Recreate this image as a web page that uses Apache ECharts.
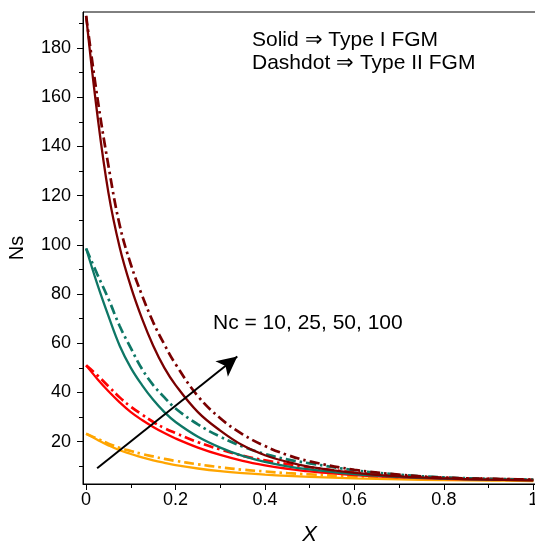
<!DOCTYPE html>
<html><head><meta charset="utf-8">
<script src="https://cdn.jsdelivr.net/npm/echarts@6/dist/echarts.min.js"></script>
<style>html,body{margin:0;padding:0;background:#fff}#c{width:535px;height:544px}</style>
</head><body><div id="c"></div>
<script>
const xs = [0, 0.025, 0.05, 0.075, 0.1, 0.125, 0.15, 0.175, 0.2, 0.25, 0.3, 0.35, 0.4, 0.45, 0.5, 0.6, 0.7, 0.8, 0.9, 1.0];
// Type I FGM (solid)
const nc10_I  = [23.2, 20.8, 18.5, 16.5, 15, 13.6, 12.4, 11.4, 10.5, 9.1, 8, 7.2, 6.6, 6.1, 5.7, 5.1, 4.7, 4.4, 4.2, 4.0];
const nc25_I  = [51, 45.5, 40.5, 36, 32, 28.8, 26, 23.5, 21.3, 17.6, 14.6, 12.2, 10.4, 9, 7.9, 6.4, 5.5, 4.9, 4.6, 4.4];
const nc50_I  = [98.5, 84, 71, 59, 50, 43, 37, 32, 28, 22, 17.6, 14.2, 11.8, 10, 8.7, 6.8, 5.7, 5.0, 4.6, 4.4];
const nc100_I = [193, 153, 121, 99, 83, 70, 59, 50, 43, 32, 24.5, 18.5, 14.5, 11.8, 9.8, 7.3, 5.9, 5.1, 4.6, 4.3];
// Type II FGM (dashdot)
const nc10_II  = [23.2, 21.2, 19.2, 17.5, 16.2, 15, 14, 13, 12.2, 10.8, 9.6, 8.6, 7.9, 7.2, 6.7, 5.8, 5.2, 4.8, 4.5, 4.3];
const nc25_II  = [51, 47, 42.5, 38, 34.2, 31, 28, 25.5, 23.5, 19.8, 16.8, 14.3, 12.4, 10.9, 9.6, 7.5, 6.1, 5.3, 4.9, 4.6];
const nc50_II  = [98.5, 88, 78, 67, 58, 49.5, 43, 38, 33.5, 27, 22, 18, 15, 12.8, 11.2, 8.4, 6.6, 5.5, 4.9, 4.6];
const nc100_II = [193, 160, 132, 108, 92, 79.5, 68.5, 59.5, 51.5, 38.5, 29.5, 23, 18.2, 14.6, 12, 8.6, 6.6, 5.4, 4.9, 4.6];

const xMajor = [0, 0.2, 0.4, 0.6, 0.8, 1];
const xMinor = [0.1, 0.3, 0.5, 0.7, 0.9];
const yMajor = [20, 40, 60, 80, 100, 120, 140, 160, 180];
const yMinor = [10, 30, 50, 70, 90, 110, 130, 150, 170, 190];
const arrowFrom = [0.0246, 9.2];
const arrowTo = [0.338, 54.6];

const colors = {nc10: '#FFA500', nc25: '#FF0000', nc50: '#0E7766', nc100: '#7A0000'};
const FONT = 'Liberation Sans, Arial, Helvetica, sans-serif';
const pair = arr => xs.map((x, i) => [x, arr[i]]);
const dashdot = [10, 4, 2.5, 4];

function mk(name, arr, color, dashed) {
  return {
    name, type: 'line', data: pair(arr), smooth: 0.4, showSymbol: false, symbol: 'none',
    lineStyle: {color, width: dashed ? 2.7 : 2.3, type: dashed ? dashdot : 'solid'},
    xAxisIndex: 0, yAxisIndex: 0, silent: true
  };
}

const series = [
  mk('Nc10 II', nc10_II, colors.nc10, true),
  mk('Nc10 I', nc10_I, colors.nc10, false),
  mk('Nc25 II', nc25_II, colors.nc25, true),
  mk('Nc25 I', nc25_I, colors.nc25, false),
  mk('Nc50 II', nc50_II, colors.nc50, true),
  mk('Nc50 I', nc50_I, colors.nc50, false),
  mk('Nc100 II', nc100_II, colors.nc100, true),
  mk('Nc100 I', nc100_I, colors.nc100, false)
];
series[series.length - 1].markLine = {
  silent: true, animation: false,
  symbol: ['none', 'arrow'], symbolSize: [15, 20],
  label: {show: false},
  lineStyle: {color: '#000', width: 2, type: 'solid'},
  data: [[{coord: arrowFrom}, {coord: arrowTo}]]
};

const XMIN = -0.007, XMAX = 1.006, YMIN = 2.8, YMAX = 194.6;
const chart = echarts.init(document.getElementById('c'), null, {renderer: 'canvas'});
chart.setOption({
  animation: false,
  backgroundColor: '#fff',
  grid: {left: 83, right: -1, top: 12, bottom: 60, show: true, borderColor: '#000', borderWidth: 1,
         backgroundColor: 'transparent', containLabel: false, outerBoundsMode: 'none'},
  xAxis: [
    {type: 'value', min: XMIN, max: XMAX, position: 'bottom',
     name: 'X', nameLocation: 'middle', nameGap: 40,
     nameTextStyle: {fontFamily: FONT, fontSize: 22, fontStyle: 'italic', color: '#000'},
     axisLine: {show: true, onZero: false, lineStyle: {color: '#000', width: 1}},
     axisTick: {show: true, length: 6, customValues: xMajor, lineStyle: {color: '#000'}},
     axisLabel: {customValues: xMajor, fontFamily: FONT, fontSize: 18, color: '#000', margin: 7,
                 hideOverlap: false, formatter: v => String(Math.round(v * 10) / 10)},
     splitLine: {show: false}},
    {type: 'value', min: XMIN, max: XMAX, position: 'bottom', offset: 0,
     axisLine: {show: false, onZero: false},
     axisTick: {show: true, length: 4, customValues: xMinor, lineStyle: {color: '#000'}},
     axisLabel: {show: false, customValues: xMinor},
     splitLine: {show: false}}
  ],
  yAxis: [
    {type: 'value', min: YMIN, max: YMAX, position: 'left',
     name: 'Ns', nameLocation: 'middle', nameGap: 56, nameRotate: 90,
     nameTextStyle: {fontFamily: FONT, fontSize: 20, color: '#000'},
     axisLine: {show: true, onZero: false, lineStyle: {color: '#000', width: 1}},
     axisTick: {show: true, length: 6, customValues: yMajor, lineStyle: {color: '#000'}},
     axisLabel: {customValues: yMajor, fontFamily: FONT, fontSize: 18, color: '#000', margin: 12},
     splitLine: {show: false}},
    {type: 'value', min: YMIN, max: YMAX, position: 'left', offset: 0,
     axisLine: {show: false, onZero: false},
     axisTick: {show: true, length: 4, customValues: yMinor, lineStyle: {color: '#000'}},
     axisLabel: {show: false, customValues: yMinor},
     splitLine: {show: false}}
  ],
  graphic: [
    {type: 'text', left: 252, top: 30, silent: true,
     style: {text: 'Solid \u21D2 Type I FGM', font: '21px ' + FONT, fill: '#000'}},
    {type: 'text', left: 252, top: 53, silent: true,
     style: {text: 'Dashdot \u21D2 Type II FGM', font: '21px ' + FONT, fill: '#000'}},
    {type: 'text', left: 213, top: 313, silent: true,
     style: {text: 'Nc = 10, 25, 50, 100', font: '21px ' + FONT, fill: '#000'}}
  ],
  series
});
</script></body></html>
